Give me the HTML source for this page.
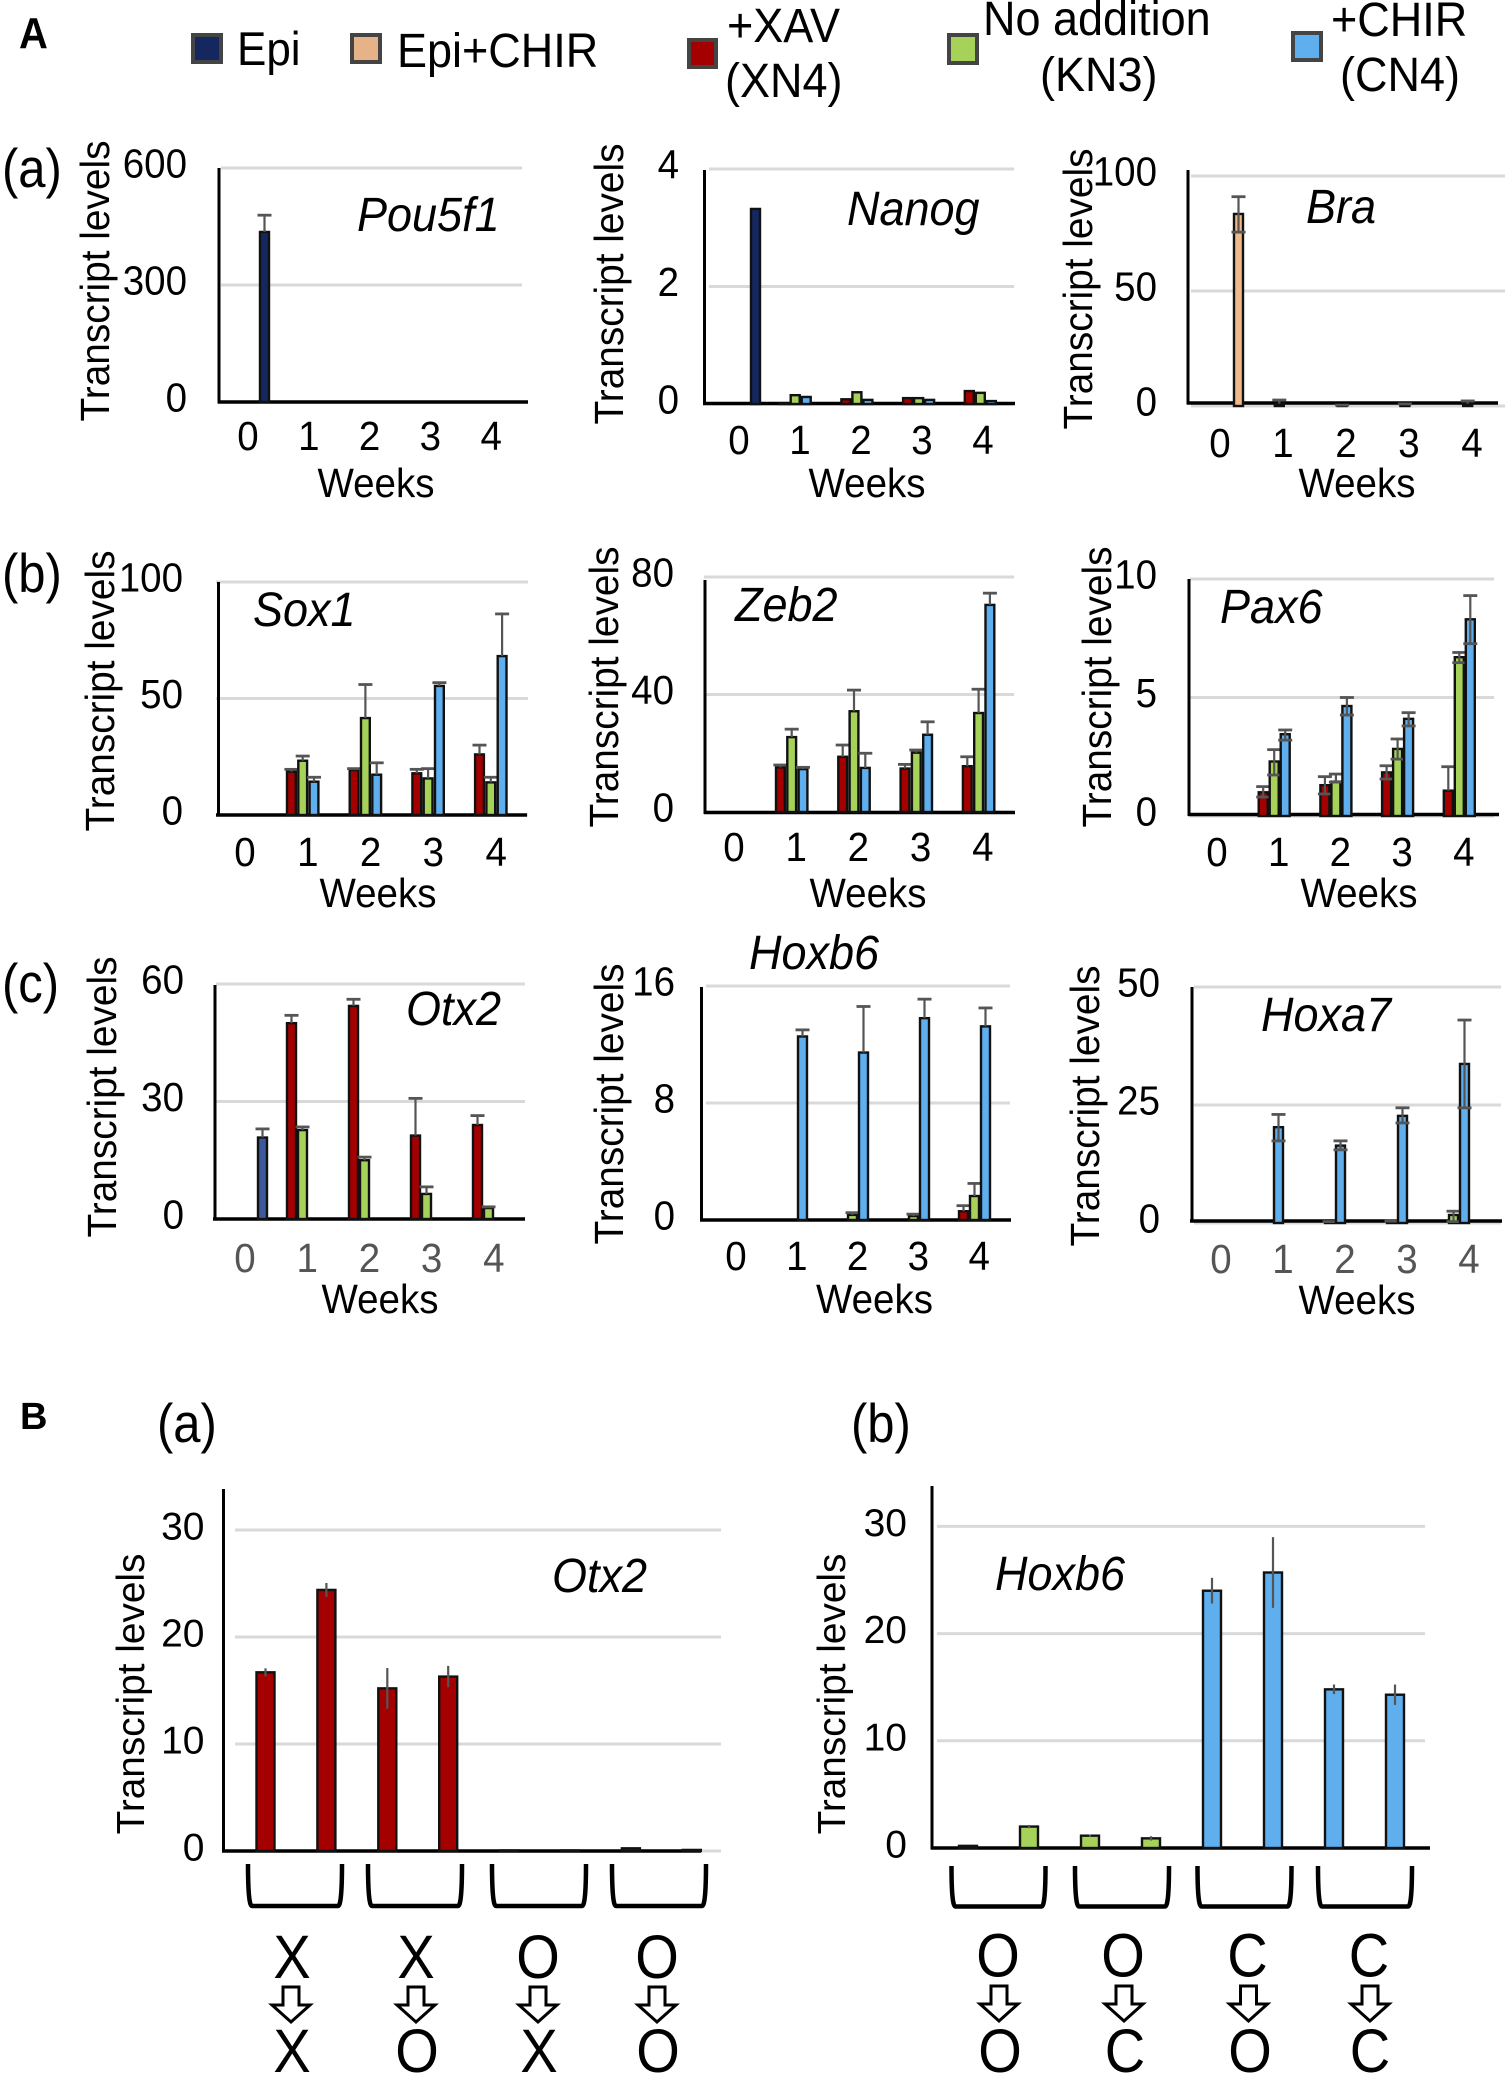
<!DOCTYPE html>
<html lang="en">
<head>
<meta charset="utf-8">
<title>Transcript levels</title>
<style>
html,body{margin:0;padding:0;background:#fff;width:1505px;height:2075px;overflow:hidden}
svg{display:block;font-family:"Liberation Sans",Arial,sans-serif}
</style>
</head>
<body>
<svg id="figure" xmlns="http://www.w3.org/2000/svg" width="1505" height="2075" viewBox="0 0 1505 2075">
  <rect x="0" y="0" width="1505" height="2075" fill="#fff"/>
  <text x="19" y="48" font-size="40" font-weight="bold" transform="matrix(1 0 0 1.08 0 -3.84)">A</text>
  <text x="20" y="1429" font-size="38" font-weight="bold">B</text>
  <text x="2" y="187" font-size="49" transform="matrix(1 0 0 1.12 0 -22.44)">(a)</text>
  <text x="2" y="592" font-size="49" transform="matrix(1 0 0 1.12 0 -71.04)">(b)</text>
  <text x="2" y="1002" font-size="49" transform="matrix(1 0 0 1.12 0 -120.24)">(c)</text>
  <text x="157" y="1442" font-size="49" transform="matrix(1 0 0 1.12 0 -173.04)">(a)</text>
  <text x="851" y="1442" font-size="49" transform="matrix(1 0 0 1.12 0 -173.04)">(b)</text>
  <g font-size="45">
    <g>
      <rect x="193" y="35" width="28" height="27" fill="#14285f" stroke="#444" stroke-width="4"/>
      <text x="237" y="65" font-size="44" transform="matrix(1 0 0 1.08 0 -5.2)">Epi</text>
    </g>
    <g>
      <rect x="352" y="35" width="28" height="27" fill="#e6b287" stroke="#444" stroke-width="4"/>
      <text x="397" y="67" transform="matrix(1 0 0 1.08 0 -5.36)">Epi+CHIR</text>
    </g>
    <g>
      <rect x="689" y="40" width="27" height="27" fill="#a50000" stroke="#444" stroke-width="4"/>
      <text x="727" y="42" transform="matrix(1 0 0 1.08 0 -3.36)">+XAV</text>
      <text x="725" y="97" transform="matrix(1 0 0 1.08 0 -7.76)">(XN4)</text>
    </g>
    <g>
      <rect x="949" y="35" width="28" height="28" fill="#a6d25a" stroke="#444" stroke-width="4"/>
      <text x="983" y="35" transform="matrix(1 0 0 1.08 0 -2.8)">No addition</text>
      <text x="1040" y="91" transform="matrix(1 0 0 1.08 0 -7.28)">(KN3)</text>
    </g>
    <g>
      <rect x="1293" y="33" width="28" height="27" fill="#5faeee" stroke="#444" stroke-width="4"/>
      <text x="1331" y="36" transform="matrix(1 0 0 1.08 0 -2.88)">+CHIR</text>
      <text x="1340" y="91" transform="matrix(1 0 0 1.08 0 -7.28)">(CN4)</text>
    </g>
  </g>
</svg>
<script>
const weekLabels = ['0', '1', '2', '3', '4'];
const RED = '#a50000', GREEN = '#a6d25a', BLUE = '#5faeee', NAVY = '#14285f', PEACH = '#efb98a', SLATE = '#3c5a9b';

const pou5f1Ticks = [0, 300, 600];
const pou5f1Epi = [436, null, null, null, null];
const pou5f1EpiHi = [479, null, null, null, null];

const nanogTicks = [0, 2, 4];
const nanogEpi = [3.32, null, null, null, null];
const nanogXav = [null, 0.01, 0.08, 0.1, 0.22];
const nanogKn3 = [null, 0.15, 0.2, 0.1, 0.19];
const nanogChir = [null, 0.12, 0.07, 0.07, 0.05];

const braTicks = [0, 50, 100];
const braEpiChir = [83.5, null, null, null, null];
const braEpiChirHi = [91, null, null, null, null];
const braEpiChirLo = [75.6, null, null, null, null];
const braKn3 = [null, 1, 0.2, 0.5, 1];
const braKn3Hi = [null, 2.6, 0.4, 0.9, 2.2];

const sox1Ticks = [0, 50, 100];
const sox1Xav = [null, 18.6, 19.3, 17.9, 26];
const sox1XavHi = [null, 19.6, 19.9, 19.6, 30];
const sox1Kn3 = [null, 23.3, 41.6, 15.7, 14];
const sox1Kn3Hi = [null, 25.3, 56, 19.9, 16.2];
const sox1Chir = [null, 14.3, 17.3, 55.4, 68.2];
const sox1ChirHi = [null, 16.2, 22.4, 56.8, 86.3];

const zeb2Ticks = [0, 40, 80];
const zeb2Xav = [null, 15.2, 18.8, 14.8, 15.6];
const zeb2XavHi = [null, 16, 22.8, 16.2, 18.8];
const zeb2Kn3 = [null, 25.5, 34.3, 20.2, 33.7];
const zeb2Kn3Hi = [null, 28.2, 41.5, 21.1, 41.8];
const zeb2Chir = [null, 14.6, 15, 26.3, 70.5];
const zeb2ChirHi = [null, 15.2, 20, 30.7, 74.5];

const pax6Ticks = [0, 5, 10];
const pax6Xav = [null, 1, 1.3, 1.84, 1.07];
const pax6XavHi = [null, 1.24, 1.66, 2.12, 2.08];
const pax6XavLo = [null, 0.8, 0.93, 1.56, null];
const pax6Kn3 = [null, 2.3, 1.45, 2.83, 6.7];
const pax6Kn3Hi = [null, 2.8, 1.77, 3.25, 6.9];
const pax6Kn3Lo = [null, 1.73, 1.43, 2.4, 6.47];
const pax6Chir = [null, 3.45, 4.64, 4.1, 8.3];
const pax6ChirHi = [null, 3.63, 5, 4.36, 9.3];
const pax6ChirLo = [null, 3.2, 4.26, 3.8, 7.27];

const otx2Ticks = [0, 30, 60];
const otx2Epi = [20.8, null, null, null, null];
const otx2EpiHi = [23, null, null, null, null];
const otx2Xav = [null, 50, 54.4, 21.3, 24];
const otx2XavHi = [null, 52, 56.1, 30.8, 26.4];
const otx2Kn3 = [null, 22.7, 15, 6.4, 2.8];
const otx2Kn3Hi = [null, 23.5, 15.8, 8.2, 3.1];

const hoxb6Ticks = [0, 8, 16];
const hoxb6Xav = [null, null, null, null, 0.6];
const hoxb6XavHi = [null, null, null, null, 0.98];
const hoxb6Kn3 = [null, null, 0.35, 0.27, 1.64];
const hoxb6Kn3Hi = [null, null, 0.5, 0.4, 2.5];
const hoxb6Chir = [null, 12.55, 11.45, 13.8, 13.24];
const hoxb6ChirHi = [null, 13, 14.6, 15.1, 14.5];

const hoxa7Ticks = [0, 25, 50];
const hoxa7Kn3 = [null, null, 0.2, 0.3, 1.7];
const hoxa7Kn3Hi = [null, null, 0.3, 0.4, 2.5];
const hoxa7Kn3Lo = [null, null, null, null, 0.3];
const hoxa7Chir = [null, 20.3, 16.4, 22.7, 33.7];
const hoxa7ChirHi = [null, 23, 17.4, 24.4, 43];
const hoxa7ChirLo = [null, 17.4, 15.5, 21.2, 24.4];

const transferTicks = [0, 10, 20, 30];
const transferOtx2 = [16.7, 24.4, 15.2, 16.3, 0.05, 0.05, 0.25, 0.1];
const transferOtx2Err = [0.37, 0.65, 1.9, 1, 0, 0, 0, 0];
const transferHoxb6Kn3 = [0.2, 2, 1.15, 0.9, null, null, null, null];
const transferHoxb6Kn3Err = [0, 0.15, 0.1, 0.2, 0, 0, 0, 0];
const transferHoxb6Chir = [null, null, null, null, 24, 25.7, 14.8, 14.3];
const transferHoxb6ChirErr = [0, 0, 0, 0, 1.2, 3.3, 0.45, 0.95];

const otx2GroupTop = ['X', 'X', 'O', 'O'];
const otx2GroupBottom = ['X', 'O', 'X', 'O'];
const hoxb6GroupTop = ['O', 'O', 'C', 'C'];
const hoxb6GroupBottom = ['O', 'C', 'O', 'C'];

const SVGNS = 'http://www.w3.org/2000/svg';
const root = document.getElementById('figure');

function make(parent, tag, name) {
  const el = document.createElementNS(SVGNS, tag);
  
  
  parent.appendChild(el);
  return el;
}
function line(parent, name, x1, y1, x2, y2, color, w) {
  const el = make(parent, 'line', name);
  el.setAttribute('x1', x1); el.setAttribute('y1', y1);
  el.setAttribute('x2', x2); el.setAttribute('y2', y2);
  el.setAttribute('stroke', color); el.setAttribute('stroke-width', w);
  return el;
}
function label(parent, name, x, y, str, size, anchor, color, italic, k) {
  const el = make(parent, 'text', name);
  el.setAttribute('x', x); el.setAttribute('y', y);
  el.setAttribute('font-size', size);
  el.setAttribute('text-anchor', anchor);
  el.setAttribute('fill', color || '#000');
  if (italic) el.setAttribute('font-style', 'italic');
  if (k && k !== 1) el.setAttribute('transform', 'matrix(1 0 0 ' + k + ' 0 ' + (y * (1 - k)) + ')');
  el.textContent = str;
  return el;
}
function drawChart(c) {
  const g = make(root, 'g', 'chart-' + c.id);
  const yScale = v => c.base - (v / c.max) * (c.base - c.top);
  const xScale = (i, slot) => c.x0 + i * c.step + slot * c.slot;
  const k = c.k || 1.06;

  c.ticks.forEach(t => {
    line(g, 'gridline-' + t, c.gridL, yScale(t), c.gridR, yScale(t), '#d9d9d9', 3);
    label(g, 'y-tick-' + t, c.yLabelR, yScale(t) + 9.5, String(t), c.tickSize || 38.5, 'end', '#000', false, k);
  });
  line(g, 'y-axis', c.axisX, c.axisTop, c.axisX, c.axisY + 1.5, '#000', 3);
  line(g, 'x-axis', c.axisL, c.axisY, c.axisR, c.axisY, '#000', 3.5);

  c.series.forEach(s => {
    s.values.forEach((v, i) => {
      if (v === null || v === 0) return;
      const x = xScale(i, s.slot);
      const bar = make(g, 'rect', 'bar-' + s.name + '-' + i);
      bar.setAttribute('x', x + 1);
      bar.setAttribute('y', yScale(v));
      bar.setAttribute('width', c.barW - 2);
      bar.setAttribute('height', Math.max(0, c.base - yScale(v)));
      bar.setAttribute('fill', s.color);
      bar.setAttribute('stroke', '#111');
      bar.setAttribute('stroke-width', 2.4);
    });
    s.values.forEach((v, i) => {
      if (v === null) return;
      const cx = xScale(i, s.slot) + c.barW / 2;
      const hi = s.hi ? s.hi[i] : null;
      const lo = s.lo ? s.lo[i] : null;
      const err = s.err ? s.err[i] : 0;
      if (err) {
        line(g, 'error-bar-' + s.name + '-' + i, cx, yScale(v + err), cx, yScale(v - err), '#555', 2.2);
      }
      if (hi !== null) {
        line(g, 'error-bar-' + s.name + '-' + i, cx, yScale(lo !== null ? lo : v), cx, yScale(hi), '#555', 2.2);
        line(g, 'error-cap-' + s.name + '-' + i, cx - 7, yScale(hi), cx + 7, yScale(hi), '#555', 2.8);
      }
      if (lo !== null) {
        line(g, 'error-cap-low-' + s.name + '-' + i, cx - 7, yScale(lo), cx + 7, yScale(lo), '#555', 2.8);
      }
    });
  });

  if (c.labelX0 !== undefined) {
    weekLabels.forEach((t, i) => {
      label(g, 'x-tick-' + t, c.labelX0 + i * c.labelStep, c.labelY, t, 38.5, 'middle', c.tickColor, false, k);
    });
    label(g, 'x-axis-title', c.weeksX, c.weeksY, 'Weeks', 38.5, 'middle', '#000', false, k);
  }
  const yt = label(g, 'y-axis-title', 0, 0, 'Transcript levels', 38.8, 'middle');
  yt.setAttribute('transform', 'translate(' + c.ytX + ' ' + c.ytY + ') rotate(-90) scale(1 ' + k + ')');
  label(g, 'gene-title', c.titleX, c.titleY, c.title, 45, 'start', '#000', true, 1.07);
  return g;
}
function drawGroups(name, brackets, bTop, bBot, topLetters, topXs, topY, arrowXs, arrowY, botLetters, botXs, botY) {
  const g = make(root, 'g', name);
  brackets.forEach((b, i) => {
    const p = make(g, 'path', 'group-bracket-' + i);
    const x0 = b, x1 = b + 94;
    p.setAttribute('d', 'M' + x0 + ' ' + bTop + ' C' + x0 + ' ' + (bTop + 24) + ' ' + (x0 + 1) + ' ' + bBot + ' ' + (x0 + 4) + ' ' + bBot +
      ' L' + (x1 - 4) + ' ' + bBot + ' C' + (x1 - 1) + ' ' + bBot + ' ' + x1 + ' ' + (bTop + 24) + ' ' + x1 + ' ' + bTop);
    p.setAttribute('fill', 'none');
    p.setAttribute('stroke', '#000');
    p.setAttribute('stroke-width', 4.5);
  });
  topLetters.forEach((t, i) => { label(g, 'condition-first-' + i, topXs[i], topY, t, 56, 'middle', '#000', false, 1.1); });
  arrowXs.forEach((x, i) => {
    const a = make(g, 'path', 'condition-arrow-' + i);
    a.setAttribute('d', 'M' + (x - 8) + ' ' + arrowY + ' H' + (x + 8) + ' V' + (arrowY + 18) + ' H' + (x + 19) + ' L' + x + ' ' + (arrowY + 35) + ' L' + (x - 19) + ' ' + (arrowY + 18) + ' H' + (x - 8) + ' Z');
    a.setAttribute('fill', '#fff');
    a.setAttribute('stroke', '#000');
    a.setAttribute('stroke-width', 3);
  });
  botLetters.forEach((t, i) => { label(g, 'condition-second-' + i, botXs[i], botY, t, 56, 'middle', '#000', false, 1.1); });
}

drawChart({id:'pou5f1', title:'Pou5f1', titleX:357, titleY:231, ticks:pou5f1Ticks, max:600, top:168, base:402,
  axisX:219, axisTop:168, axisY:402, axisL:218, axisR:528, gridL:221, gridR:522,
  x0:226, step:61, slot:11, barW:11, yLabelR:187, labelX0:248, labelStep:60.8, labelY:450, weeksX:376, weeksY:497, ytX:109, ytY:281,
  series:[{name:'epi', slot:3, color:NAVY, values:pou5f1Epi, hi:pou5f1EpiHi}]});

drawChart({id:'nanog', title:'Nanog', titleX:847, titleY:225, ticks:nanogTicks, max:4, top:169, base:404,
  axisX:704.5, axisTop:170, axisY:403.5, axisL:703, axisR:1015, gridL:709, gridR:1014,
  x0:717, step:61.7, slot:11, barW:11, yLabelR:679, labelX0:739, labelStep:61, labelY:454, weeksX:867, weeksY:497, ytX:623, ytY:284,
  series:[{name:'epi', slot:3, color:NAVY, values:nanogEpi},
          {name:'xav', slot:0, color:RED, values:nanogXav},
          {name:'kn3', slot:1, color:GREEN, values:nanogKn3},
          {name:'chir', slot:2, color:BLUE, values:nanogChir}]});

drawChart({id:'bra', title:'Bra', titleX:1306, titleY:223, ticks:braTicks, max:100, top:176, base:406,
  axisX:1188, axisTop:170, axisY:403, axisL:1187, axisR:1498, gridL:1191, gridR:1505,
  x0:1200, step:62.8, slot:11, barW:11, yLabelR:1157, labelX0:1220, labelStep:63, labelY:457, weeksX:1357, weeksY:497, ytX:1092, ytY:289,
  series:[{name:'epi-chir', slot:3, color:PEACH, values:braEpiChir, hi:braEpiChirHi, lo:braEpiChirLo},
          {name:'kn3', slot:1, color:GREEN, values:braKn3, hi:braKn3Hi}]});

drawChart({id:'sox1', title:'Sox1', titleX:253, titleY:626, ticks:sox1Ticks, max:100, top:582, base:815,
  axisX:218.5, axisTop:582, axisY:815, axisL:216, axisR:527, gridL:216, gridR:528,
  x0:223.3, step:62.7, slot:11.3, barW:10.8, yLabelR:183, labelX0:245, labelStep:62.8, labelY:866, weeksX:378, weeksY:907, ytX:114, ytY:691,
  series:[{name:'xav', slot:0, color:RED, values:sox1Xav, hi:sox1XavHi},
          {name:'kn3', slot:1, color:GREEN, values:sox1Kn3, hi:sox1Kn3Hi},
          {name:'chir', slot:2, color:BLUE, values:sox1Chir, hi:sox1ChirHi}]});

drawChart({id:'zeb2', title:'Zeb2', titleX:735, titleY:621, ticks:zeb2Ticks, max:80, top:577, base:812,
  axisX:705, axisTop:580, axisY:812.5, axisL:704, axisR:1015, gridL:704, gridR:1014,
  x0:712.7, step:62.3, slot:11.3, barW:10.8, yLabelR:674, labelX0:734, labelStep:62.2, labelY:861, weeksX:868, weeksY:907, ytX:618, ytY:687,
  series:[{name:'xav', slot:0, color:RED, values:zeb2Xav, hi:zeb2XavHi},
          {name:'kn3', slot:1, color:GREEN, values:zeb2Kn3, hi:zeb2Kn3Hi},
          {name:'chir', slot:2, color:BLUE, values:zeb2Chir, hi:zeb2ChirHi}]});

drawChart({id:'pax6', title:'Pax6', titleX:1220, titleY:623, ticks:pax6Ticks, max:10, top:579, base:816,
  axisX:1189, axisTop:579, axisY:814.5, axisL:1188, axisR:1499, gridL:1190, gridR:1494,
  x0:1196, step:61.7, slot:11, barW:11, yLabelR:1157, labelX0:1217, labelStep:61.7, labelY:866, weeksX:1359, weeksY:907, ytX:1111, ytY:687,
  series:[{name:'xav', slot:0, color:RED, values:pax6Xav, hi:pax6XavHi, lo:pax6XavLo},
          {name:'kn3', slot:1, color:GREEN, values:pax6Kn3, hi:pax6Kn3Hi, lo:pax6Kn3Lo},
          {name:'chir', slot:2, color:BLUE, values:pax6Chir, hi:pax6ChirHi, lo:pax6ChirLo}]});

drawChart({id:'otx2', title:'Otx2', titleX:406, titleY:1025, ticks:otx2Ticks, max:60, top:984, base:1219,
  axisX:215, axisTop:985, axisY:1219, axisL:213, axisR:525, gridL:216, gridR:525,
  x0:224, step:62, slot:11, barW:11, yLabelR:184, labelX0:245, labelStep:62.2, labelY:1272, tickColor:'#555', weeksX:380, weeksY:1313, ytX:116, ytY:1097,
  series:[{name:'epi', slot:3, color:SLATE, values:otx2Epi, hi:otx2EpiHi},
          {name:'xav', slot:0, color:RED, values:otx2Xav, hi:otx2XavHi},
          {name:'kn3', slot:1, color:GREEN, values:otx2Kn3, hi:otx2Kn3Hi}]});

drawChart({id:'hoxb6', title:'Hoxb6', titleX:749, titleY:969, ticks:hoxb6Ticks, max:16, top:986, base:1220,
  axisX:701.5, axisTop:987, axisY:1220, axisL:700, axisR:1011, gridL:706, gridR:1010,
  x0:714, step:61, slot:11, barW:11, yLabelR:675, labelX0:736, labelStep:60.8, labelY:1270, weeksX:874.5, weeksY:1313, ytX:623, ytY:1104,
  series:[{name:'xav', slot:0, color:RED, values:hoxb6Xav, hi:hoxb6XavHi},
          {name:'kn3', slot:1, color:GREEN, values:hoxb6Kn3, hi:hoxb6Kn3Hi},
          {name:'chir', slot:2, color:BLUE, values:hoxb6Chir, hi:hoxb6ChirHi}]});

drawChart({id:'hoxa7', title:'Hoxa7', titleX:1261, titleY:1031, ticks:hoxa7Ticks, max:50, top:987, base:1223,
  axisX:1192, axisTop:987, axisY:1221, axisL:1190, axisR:1502, gridL:1194, gridR:1501,
  x0:1189, step:62, slot:11, barW:11, yLabelR:1160, labelX0:1221, labelStep:62, labelY:1273, tickColor:'#555', weeksX:1357, weeksY:1314, ytX:1099, ytY:1106,
  series:[{name:'kn3', slot:1, color:GREEN, values:hoxa7Kn3, hi:hoxa7Kn3Hi, lo:hoxa7Kn3Lo},
          {name:'chir', slot:2, color:BLUE, values:hoxa7Chir, hi:hoxa7ChirHi, lo:hoxa7ChirLo}]});

drawChart({id:'transfer-otx2', title:'Otx2', titleX:552, titleY:1592, ticks:transferTicks, max:30, top:1530, base:1851, k:1.001,
  axisX:223.5, axisTop:1489, axisY:1851, axisL:222, axisR:701, gridL:235, gridR:721,
  x0:255.5, step:60.9, slot:0, barW:20, yLabelR:204.5, tickSize:39, ytX:144, ytY:1694,
  series:[{name:'xav', slot:0, color:RED, values:transferOtx2, err:transferOtx2Err}]});

drawChart({id:'transfer-hoxb6', title:'Hoxb6', titleX:995, titleY:1590, ticks:transferTicks, max:30, top:1526.4, base:1848, k:1.001,
  axisX:932, axisTop:1486, axisY:1848, axisL:931, axisR:1430, gridL:937, gridR:1425,
  x0:958, step:61, slot:0, barW:20, yLabelR:907, tickSize:39, ytX:845, ytY:1694,
  series:[{name:'kn3', slot:0, color:GREEN, values:transferHoxb6Kn3, err:transferHoxb6Kn3Err},
          {name:'chir', slot:0, color:BLUE, values:transferHoxb6Chir, err:transferHoxb6ChirErr}]});

drawGroups('otx2-condition-groups', [248, 368, 492, 612], 1864, 1906,
  otx2GroupTop, [292, 416, 538, 657], 1978, [291, 416, 538, 657], 1987, otx2GroupBottom, [292, 417, 539, 658], 2072);
drawGroups('hoxb6-condition-groups', [951.5, 1075, 1197.5, 1318], 1866, 1906.5,
  hoxb6GroupTop, [998, 1123, 1247.5, 1369], 1976.5, [999, 1124, 1248.5, 1370], 1986, hoxb6GroupBottom, [1000, 1125, 1250, 1370], 2072);
</script>
</body>
</html>
